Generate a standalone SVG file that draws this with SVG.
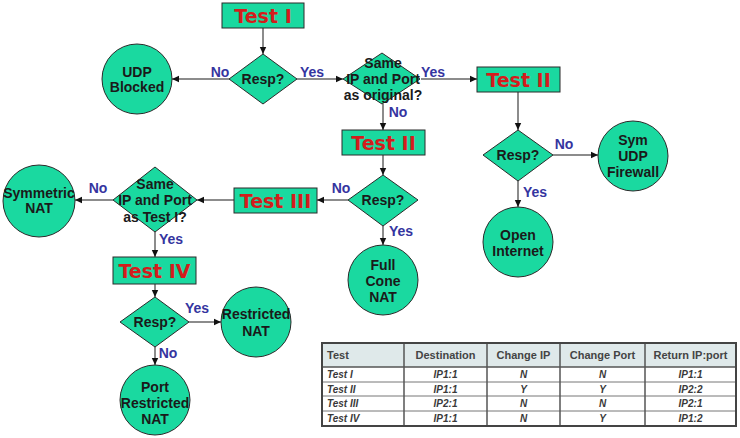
<svg xmlns="http://www.w3.org/2000/svg" width="740" height="438" viewBox="0 0 740 438">
<style>
  .shape { fill: #1ad9a0; stroke: #2a2a2a; stroke-width: 1; }
  .test { font-family: "DejaVu Sans", Verdana, sans-serif; font-weight: bold; font-size: 19px; fill: #d41c1c; text-anchor: middle; }
  .lbl { font-family: "Liberation Sans", Arial, sans-serif; font-weight: bold; font-size: 14px; fill: #1a1a1a; text-anchor: middle; }
  .yn { font-family: "Liberation Sans", Arial, sans-serif; font-weight: bold; font-size: 14px; fill: #3535a0; text-anchor: middle; }
  .conn line { stroke: #666; stroke-width: 1.5; marker-end: url(#arr); }
  .th { font-family: "Liberation Sans", Arial, sans-serif; font-weight: bold; font-size: 11px; fill: #444; text-anchor: middle; }
  .td { font-family: "Liberation Sans", Arial, sans-serif; font-weight: bold; font-style: italic; font-size: 10px; fill: #3a3a3a; text-anchor: middle; }
  .grid { stroke: #555; stroke-width: 1.5; }
  .rowl { stroke: #777; stroke-width: 1; }
</style>
<defs>
  <marker id="arr" markerUnits="userSpaceOnUse" markerWidth="8" markerHeight="8" refX="7" refY="4" orient="auto">
    <path d="M0,0.8 L7,4 L0,7.2 Z" fill="#111"/>
  </marker>
</defs>
<rect width="740" height="438" fill="#fff"/>

<g class="conn">
  <line x1="263" y1="28" x2="263" y2="54"/>
  <line x1="229" y1="79" x2="172" y2="79"/>
  <line x1="297" y1="79" x2="343" y2="79"/>
  <line x1="421" y1="79" x2="477" y2="79"/>
  <line x1="383" y1="104" x2="383" y2="130"/>
  <line x1="518" y1="92" x2="518" y2="130"/>
  <line x1="553" y1="155" x2="598" y2="155"/>
  <line x1="518" y1="181" x2="518" y2="207"/>
  <line x1="383" y1="155" x2="383" y2="175"/>
  <line x1="348" y1="200" x2="317" y2="200"/>
  <line x1="383" y1="226" x2="383" y2="245"/>
  <line x1="234" y1="200" x2="197" y2="200"/>
  <line x1="113" y1="200" x2="75" y2="200"/>
  <line x1="155" y1="232" x2="155" y2="257"/>
  <line x1="155" y1="284" x2="155" y2="297"/>
  <line x1="189" y1="322" x2="221" y2="322"/>
  <line x1="155" y1="347" x2="155" y2="365"/>
</g>

<g id="testI">
  <rect class="shape" x="222" y="3" width="82" height="25"/>
  <text class="test" x="263" y="23">Test I</text>
</g>
<g id="resp1">
  <polygon class="shape" points="263,54 297,79 263,104 229,79"/>
  <text class="lbl" x="263" y="84">Resp?</text>
</g>
<g id="udpBlocked">
  <circle class="shape" cx="137" cy="79" r="35"/>
  <text class="lbl" x="137" y="77">UDP</text>
  <text class="lbl" x="137" y="92">Blocked</text>
</g>
<g id="sameOriginal">
  <polygon class="shape" points="382,53 420,79 382,104 343,79"/>
  <text class="lbl" x="383" y="68">Same</text>
  <text class="lbl" x="383" y="84">IP and Port</text>
  <text class="lbl" x="383" y="100">as original?</text>
</g>
<g id="testII_right">
  <rect class="shape" x="477" y="67" width="83" height="25"/>
  <text class="test" x="518.5" y="87">Test II</text>
</g>
<g id="resp3">
  <polygon class="shape" points="518,130 553,155 518,181 483,155"/>
  <text class="lbl" x="518" y="160">Resp?</text>
</g>
<g id="symUdpFirewall">
  <circle class="shape" cx="633" cy="156" r="35"/>
  <text class="lbl" x="633" y="145">Sym</text>
  <text class="lbl" x="633" y="161">UDP</text>
  <text class="lbl" x="633" y="177">Firewall</text>
</g>
<g id="openInternet">
  <circle class="shape" cx="518" cy="242" r="35"/>
  <text class="lbl" x="518" y="240">Open</text>
  <text class="lbl" x="518" y="256">Internet</text>
</g>
<g id="testII_mid">
  <rect class="shape" x="342" y="130" width="83" height="25"/>
  <text class="test" x="383.5" y="150">Test II</text>
</g>
<g id="resp4">
  <polygon class="shape" points="383,175 418,200 383,226 348,200"/>
  <text class="lbl" x="383" y="205">Resp?</text>
</g>
<g id="fullCone">
  <circle class="shape" cx="383" cy="280" r="35"/>
  <text class="lbl" x="383" y="270">Full</text>
  <text class="lbl" x="383" y="286">Cone</text>
  <text class="lbl" x="383" y="302">NAT</text>
</g>
<g id="testIII">
  <rect class="shape" x="234" y="188" width="83" height="25"/>
  <text class="test" x="275.5" y="208">Test III</text>
</g>
<g id="sameTestI">
  <polygon class="shape" points="155,167 197,200 155,232 113,200"/>
  <text class="lbl" x="155" y="189">Same</text>
  <text class="lbl" x="155" y="205">IP and Port</text>
  <text class="lbl" x="155" y="222">as Test I?</text>
</g>
<g id="symmetricNat">
  <circle class="shape" cx="39" cy="201" r="36"/>
  <text class="lbl" x="39" y="198">Symmetric</text>
  <text class="lbl" x="39" y="213">NAT</text>
</g>
<g id="testIV">
  <rect class="shape" x="113" y="257" width="83" height="27"/>
  <text class="test" x="154.5" y="277.5">Test IV</text>
</g>
<g id="resp6">
  <polygon class="shape" points="155,297 189,322 155,347 120,322"/>
  <text class="lbl" x="155" y="327">Resp?</text>
</g>
<g id="restrictedNat">
  <circle class="shape" cx="256" cy="322" r="35"/>
  <text class="lbl" x="256" y="319">Restricted</text>
  <text class="lbl" x="256" y="336">NAT</text>
</g>
<g id="portRestrictedNat">
  <circle class="shape" cx="155" cy="400" r="35"/>
  <text class="lbl" x="155" y="392">Port</text>
  <text class="lbl" x="155" y="408">Restricted</text>
  <text class="lbl" x="155" y="424">NAT</text>
</g>

<g id="labels">
  <text class="yn" x="220" y="77">No</text>
  <text class="yn" x="312" y="77">Yes</text>
  <text class="yn" x="433" y="77">Yes</text>
  <text class="yn" x="398" y="117">No</text>
  <text class="yn" x="564" y="149">No</text>
  <text class="yn" x="535" y="197">Yes</text>
  <text class="yn" x="341" y="193">No</text>
  <text class="yn" x="401" y="236">Yes</text>
  <text class="yn" x="98" y="193">No</text>
  <text class="yn" x="171" y="244">Yes</text>
  <text class="yn" x="197" y="313">Yes</text>
  <text class="yn" x="168" y="358">No</text>
</g>

<g id="table">
  <rect x="322" y="343" width="414" height="83" fill="#fff"/>
  <rect x="322" y="343" width="414" height="24" fill="#dfe9ea"/>
  <line class="rowl" x1="322" y1="382" x2="736" y2="382"/>
  <line class="rowl" x1="322" y1="396" x2="736" y2="396"/>
  <line class="rowl" x1="322" y1="411" x2="736" y2="411"/>
  <line class="grid" x1="322" y1="367" x2="736" y2="367"/>
  <line class="grid" x1="404" y1="343" x2="404" y2="426"/>
  <line class="grid" x1="487" y1="343" x2="487" y2="426"/>
  <line class="grid" x1="560" y1="343" x2="560" y2="426"/>
  <line class="grid" x1="645" y1="343" x2="645" y2="426"/>
  <rect x="322" y="343" width="414" height="83" fill="none" stroke="#444" stroke-width="2"/>
  <text class="th" x="327" y="359" style="text-anchor:start">Test</text>
  <text class="th" x="445.5" y="359">Destination</text>
  <text class="th" x="523.5" y="359">Change IP</text>
  <text class="th" x="602.5" y="359">Change Port</text>
  <text class="th" x="690.5" y="359">Return IP:port</text>

  <text class="td" x="327" y="378" style="text-anchor:start">Test I</text>
  <text class="td" x="445.5" y="378">IP1:1</text>
  <text class="td" x="523.5" y="378">N</text>
  <text class="td" x="602.5" y="378">N</text>
  <text class="td" x="690.5" y="378">IP1:1</text>

  <text class="td" x="327" y="393" style="text-anchor:start">Test II</text>
  <text class="td" x="445.5" y="393">IP1:1</text>
  <text class="td" x="523.5" y="393">Y</text>
  <text class="td" x="602.5" y="393">Y</text>
  <text class="td" x="690.5" y="393">IP2:2</text>

  <text class="td" x="327" y="407" style="text-anchor:start">Test III</text>
  <text class="td" x="445.5" y="407">IP2:1</text>
  <text class="td" x="523.5" y="407">N</text>
  <text class="td" x="602.5" y="407">N</text>
  <text class="td" x="690.5" y="407">IP2:1</text>

  <text class="td" x="327" y="422" style="text-anchor:start">Test IV</text>
  <text class="td" x="445.5" y="422">IP1:1</text>
  <text class="td" x="523.5" y="422">N</text>
  <text class="td" x="602.5" y="422">Y</text>
  <text class="td" x="690.5" y="422">IP1:2</text>
</g>
</svg>
